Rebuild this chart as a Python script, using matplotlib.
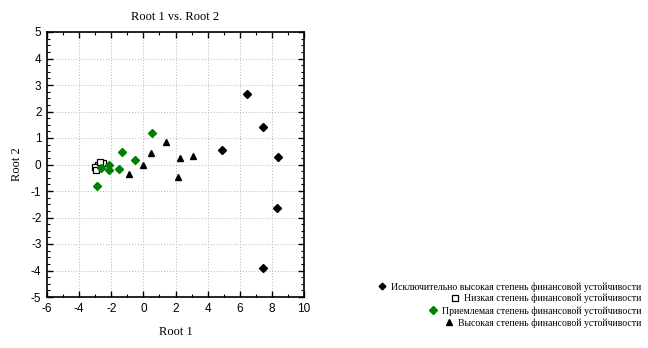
import matplotlib
matplotlib.use("Agg")
import matplotlib.pyplot as plt
from matplotlib.lines import Line2D
from matplotlib.ticker import MultipleLocator

# Canonical scores on the first two discriminant roots, by group
excl_high_r1 = [6.45, 7.44, 8.36, 4.89, 8.32, 7.44]
excl_high_r2 = [2.66, 1.43, 0.28, 0.56, -1.64, -3.90]

low_r1 = [-2.50, -2.80, -3.00, -2.95, -2.70]
low_r2 = [0.05, -0.02, -0.08, -0.21, 0.08]

accept_r1 = [0.55, -1.31, -0.50, -1.50, -2.12, -2.12, -2.66, -2.87]
accept_r2 = [1.18, 0.46, 0.16, -0.18, -0.03, -0.22, -0.14, -0.82]

high_r1 = [1.39, 0.45, 2.26, 3.07, -0.02, -0.90, 2.14]
high_r2 = [0.84, 0.42, 0.23, 0.32, -0.02, -0.36, -0.48]

group_labels = [
    "Исключительно высокая степень финансовой устойчивости",
    "Низкая степень финансовой устойчивости",
    "Приемлемая степень финансовой устойчивости",
    "Высокая степень финансовой устойчивости",
]

plt.rcParams["axes.unicode_minus"] = False
serif = "Liberation Serif"
sans = "Liberation Sans"

fig = plt.figure(figsize=(6.48, 3.48), dpi=100)
ax = fig.add_axes([47 / 648, 1 - 297 / 348, 257 / 648, 265 / 348])

green = "#008000"
styles = [
    dict(marker="D", color="black", markersize=3.8, markerfacecolor="black", markeredgecolor="black"),
    dict(marker="s", color="black", markersize=5.0, markerfacecolor="white", markeredgecolor="black", markeredgewidth=0.9),
    dict(marker="D", color=green, markersize=4.2, markerfacecolor=green, markeredgecolor=green),
    dict(marker="^", color="black", markersize=4.8, markerfacecolor="black", markeredgecolor="black"),
]
series = [(excl_high_r1, excl_high_r2), (low_r1, low_r2),
          (accept_r1, accept_r2), (high_r1, high_r2)]

for (xs, ys), st in zip(series, styles):
    ax.plot(xs, ys, linestyle="none", zorder=3, **st)

ax.set_xlim(-6, 10)
ax.set_ylim(-5, 5)
ax.xaxis.set_major_locator(MultipleLocator(2))
ax.xaxis.set_minor_locator(MultipleLocator(1))
ax.yaxis.set_major_locator(MultipleLocator(1))
ax.yaxis.set_minor_locator(MultipleLocator(0.25))
ax.tick_params(which="both", direction="in", top=True, right=True, colors="black")
ax.tick_params(which="major", length=4, width=1.0, labelsize=8.5, pad=4)
ax.tick_params(which="minor", length=2.5, width=0.8)
for lbl in ax.get_xticklabels() + ax.get_yticklabels():
    lbl.set_fontfamily(sans)
ax.grid(True, which="major", linestyle=(0, (1, 2)), color="#b4b4b4", linewidth=0.7)
for sp in ax.spines.values():
    sp.set_linewidth(1.2)
    sp.set_color("black")

ax.set_title("Root 1 vs. Root 2", fontfamily=serif, fontsize=9, pad=9)
ax.set_xlabel("Root 1", fontfamily=serif, fontsize=9, labelpad=8)
ax.set_ylabel("Root 2", fontfamily=serif, fontsize=9, labelpad=6)

# Right-aligned key, one row per group, with slightly smaller symbols
key_sizes = [3.4, 4.4, 3.8, 4.2]
row_y = [287, 298.5, 311, 323]
for label, st, ms, yp in zip(group_labels, styles, key_sizes, row_y):
    kst = dict(st)
    kst["markersize"] = ms
    h = Line2D([], [], linestyle="none", **kst)
    fig.legend([h], [label], loc="center right",
               bbox_to_anchor=(641 / 648, 1 - yp / 348),
               frameon=False, handlelength=0.8, handletextpad=0.5,
               borderpad=0, borderaxespad=0,
               prop={"family": serif, "size": 7.0})

fig.savefig("out.png", dpi=100)
